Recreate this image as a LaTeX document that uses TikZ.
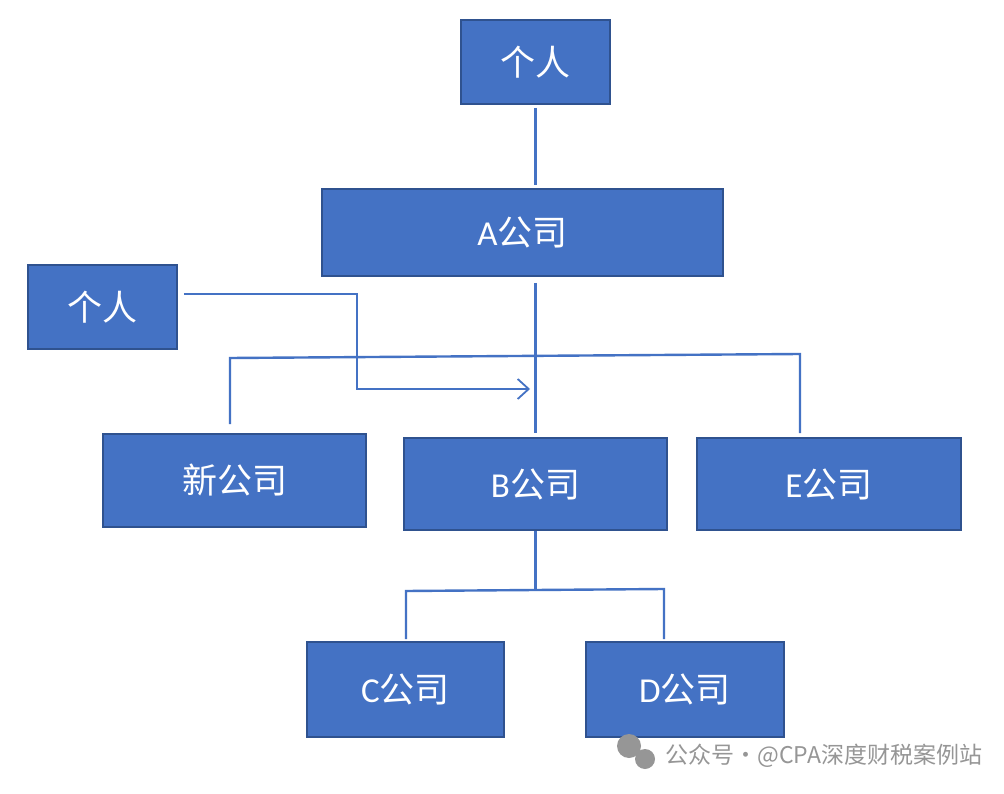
\documentclass[tikz,border=0pt]{standalone}
\usepackage{fontspec}
\setmainfont{Carlito}
\newfontfamily\cjk{Noto Sans CJK SC}
\usetikzlibrary{arrows.meta, calc}
\definecolor{boxBlue}{RGB}{68, 114, 196}
\definecolor{boxEdge}{RGB}{47, 82, 143}
\definecolor{markGray}{RGB}{150, 150, 150}

\tikzset{
  entity/.style={draw=boxEdge, line width=1.6pt, fill=boxBlue, text=white,
    inner sep=0pt, font=\fontsize{35}{40}\selectfont},
  link/.style={boxBlue, line width=2.4pt},
}

\begin{document}
\begin{tikzpicture}[x=1pt, y=-1pt]
        \useasboundingbox[fill=white] (0,0) rectangle (1004,794);

        % owners
        \node[entity, minimum width=149pt, minimum height=84pt] (p1) at (535.5, 62) {\cjk 个人};
        \node[entity, minimum width=149pt, minimum height=84pt] (p2) at (102.5, 307) {\cjk 个人};

        % A
        \node[entity, minimum width=401pt, minimum height=87pt] (a) at (522.5, 232.5) {A\cjk 公司};

        % second level
        \node[entity, minimum width=263pt, minimum height=93pt] (xin) at (234.5, 480.5) {\cjk 新公司};
        \node[entity, minimum width=263pt, minimum height=92pt] (b) at (535.5, 484) {B\cjk 公司};
        \node[entity, minimum width=264pt, minimum height=92pt] (e) at (829, 484) {E\cjk 公司};

        % third level
        \node[entity, minimum width=197pt, minimum height=95pt] (c) at (405.5, 689.5) {C\cjk 公司};
        \node[entity, minimum width=198pt, minimum height=95pt] (d) at (685, 689.5) {D\cjk 公司};

        % lines
        \coordinate (barL) at (230, 358);
        \coordinate (barR) at (800, 354);
        \coordinate (tip) at (530, 389);
        \coordinate (busL) at (406, 591);
        \coordinate (busR) at (664, 589);

        \draw[link, shorten <=3pt, shorten >=3pt] (p1.south) -- (p1.south |- a.north);
        \draw[link, shorten <=6pt, shorten >=4pt] (b.north |- a.south) -- (b.north);
        \draw[link] ($(barL |- xin.north)+(0,-9)$) -- (barL) -- (barR) -- ($(barR |- e.north)+(0,-4)$);
        \draw[boxBlue, line width=1.8pt, -{Straight Barb[length=11pt, width=20pt]}]
          ($(p2.east)+(6,-13)$) -- (357, 294) |- (tip);
        \draw[link] (b.south) -- (b.south |- busL);
        \draw[link] ($(busL |- c.north)+(0,-2)$) -- (busL) -- (busR) -- ($(busR |- d.north)+(0,-2)$);

        % watermark
        \fill[markGray] (629, 746) circle (12pt);
        \fill[markGray] (645, 759) circle (10pt);
        \node[markGray, anchor=west, font=\fontsize{23}{26}\selectfont\cjk] (mark) at (662, 756) {公众号·@CPA深度财税案例站};
      \end{tikzpicture}
\end{document}
